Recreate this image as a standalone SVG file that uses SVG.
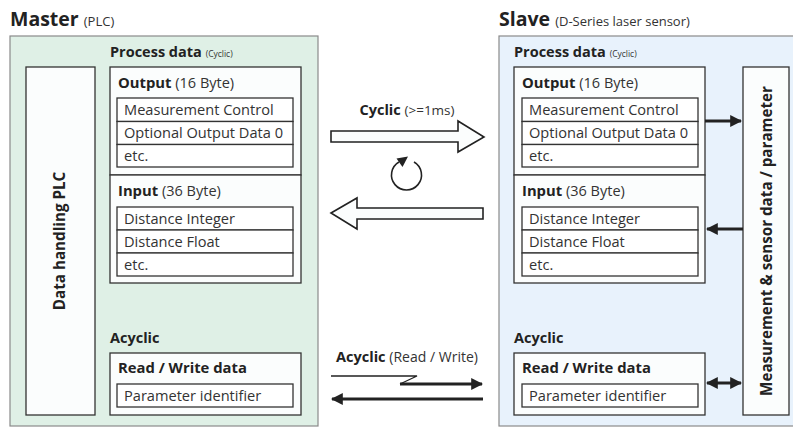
<svg xmlns="http://www.w3.org/2000/svg" width="793" height="430" viewBox="0 0 793 430">
<defs>
<style>
text{font-family:"Open Sans","Noto Sans","DejaVu Sans",sans-serif;fill:#222}
.h1{font-size:19.5px;font-weight:bold}
.h1s{font-size:13px;font-weight:normal;fill:#333}
.h2{font-size:14.5px;font-weight:bold}
.h2s{font-size:8.5px;font-weight:normal;fill:#333}
.h3{font-size:14.8px;font-weight:bold}
.h3s{font-size:14.5px;font-weight:normal;fill:#333}
.row{font-size:14.6px;fill:#333}
.vt{font-size:15.2px;font-weight:bold}
.outer{stroke:#8a8a8a;stroke-width:1.2}
.box{fill:#fbfdfd;stroke:#333;stroke-width:1.3}
.cell{fill:#fff;stroke:#333;stroke-width:1.3}
.conn{stroke:#222;stroke-width:3;fill:none}
</style>
<marker id="ah" viewBox="0 0 10 10" refX="9" refY="5" markerWidth="4" markerHeight="4" orient="auto-start-reverse" markerUnits="strokeWidth">
<path d="M0,0 L10,5 L0,10 z" fill="#222"/>
</marker>
</defs>
<rect x="0" y="0" width="793" height="430" fill="#fff"/>

<g id="master">
<text x="10" y="26" class="h1">Master <tspan class="h1s">(PLC)</tspan></text>
<rect x="10" y="36" width="308" height="390" fill="#dff0e6" class="outer"/>
<text x="110" y="57" class="h2">Process data <tspan class="h2s">(Cyclic)</tspan></text>
</g>

<g id="data-handling-plc">
<rect x="26" y="67" width="69" height="348" class="box"/>
<text transform="translate(65,241) rotate(-90)" text-anchor="middle" class="vt">Data handling PLC</text>
</g>

<g id="master-output">
<rect x="110" y="67" width="191" height="108" class="box"/>
<text x="118" y="88" class="h3">Output <tspan class="h3s">(16 Byte)</tspan></text>
<rect x="117" y="98" width="176" height="23.5" class="cell"/>
<rect x="117" y="121.5" width="176" height="23" class="cell"/>
<rect x="117" y="144.5" width="176" height="22.5" class="cell"/>
<text x="124" y="115" class="row">Measurement Control</text>
<text x="124" y="138" class="row">Optional Output Data 0</text>
<text x="124" y="161" class="row">etc.</text>
</g>

<g id="master-input">
<rect x="110" y="175" width="191" height="108" class="box"/>
<text x="118" y="196" class="h3">Input <tspan class="h3s">(36 Byte)</tspan></text>
<rect x="117" y="207" width="176" height="23" class="cell"/>
<rect x="117" y="230" width="176" height="23" class="cell"/>
<rect x="117" y="253" width="176" height="23" class="cell"/>
<text x="124" y="224" class="row">Distance Integer</text>
<text x="124" y="247" class="row">Distance Float</text>
<text x="124" y="270" class="row">etc.</text>
</g>

<g id="master-acyclic">
<text x="110" y="343" class="h2">Acyclic</text>
<rect x="110" y="353" width="191" height="62" class="box"/>
<text x="118" y="373" class="h3">Read / Write data</text>
<rect x="117" y="384" width="176" height="23" class="cell"/>
<text x="124" y="401" class="row">Parameter identifier</text>
</g>

<g id="slave">
<text x="499" y="26" class="h1">Slave <tspan class="h1s">(D-Series laser sensor)</tspan></text>
<rect x="499" y="36" width="300" height="390" fill="#e8f2fc" class="outer"/>
<text x="514" y="57" class="h2">Process data <tspan class="h2s">(Cyclic)</tspan></text>
</g>

<g id="slave-output">
<rect x="514" y="67" width="191" height="108" class="box"/>
<text x="522" y="88" class="h3">Output <tspan class="h3s">(16 Byte)</tspan></text>
<rect x="522" y="98" width="176" height="23.5" class="cell"/>
<rect x="522" y="121.5" width="176" height="23" class="cell"/>
<rect x="522" y="144.5" width="176" height="22.5" class="cell"/>
<text x="529" y="115" class="row">Measurement Control</text>
<text x="529" y="138" class="row">Optional Output Data 0</text>
<text x="529" y="161" class="row">etc.</text>
</g>

<g id="slave-input">
<rect x="514" y="175" width="191" height="108" class="box"/>
<text x="522" y="196" class="h3">Input <tspan class="h3s">(36 Byte)</tspan></text>
<rect x="522" y="207" width="176" height="23" class="cell"/>
<rect x="522" y="230" width="176" height="23" class="cell"/>
<rect x="522" y="253" width="176" height="23" class="cell"/>
<text x="529" y="224" class="row">Distance Integer</text>
<text x="529" y="247" class="row">Distance Float</text>
<text x="529" y="270" class="row">etc.</text>
</g>

<g id="slave-acyclic">
<text x="514" y="343" class="h2">Acyclic</text>
<rect x="514" y="353" width="191" height="62" class="box"/>
<text x="522" y="373" class="h3">Read / Write data</text>
<rect x="522" y="384" width="176" height="23" class="cell"/>
<text x="529" y="401" class="row">Parameter identifier</text>
</g>

<g id="sensor-data">
<rect x="743" y="67" width="46" height="348" class="box"/>
<text transform="translate(771.5,241) rotate(-90)" text-anchor="middle" class="vt">Measurement &amp; sensor data / parameter</text>
</g>

<g id="connectors">
<text x="407" y="115" text-anchor="middle" class="h2">Cyclic <tspan style="font-weight:normal;font-size:13.5px;fill:#333">(&gt;=1ms)</tspan></text>
<path d="M331,131 L458,131 L458,121 L484,137 L458,152 L458,142 L331,142 Z" fill="#fbfdfd" stroke="#222" stroke-width="1.6"/>
<path d="M331,213 L357,198 L357,208 L483,208 L483,219 L357,219 L357,229 Z" fill="#fbfdfd" stroke="#222" stroke-width="1.6"/>
<path d="M414,162 A15,15 0 1 1 399,162" fill="none" stroke="#222" stroke-width="1.6"/>
<polygon points="408,156.5 396.5,158.5 402.5,167" fill="#222"/>

<text x="407" y="362" text-anchor="middle" class="h2">Acyclic <tspan style="font-weight:normal;font-size:14px;fill:#333">(Read / Write)</tspan></text>
<path d="M331,376 L417,376 L400,384" fill="none" stroke="#222" stroke-width="1.3"/>
<path d="M400,384 L482,384" class="conn" marker-end="url(#ah)"/>
<path d="M483,399 L332,399" class="conn" marker-end="url(#ah)"/>

<path d="M705,121 L741,121" class="conn" marker-end="url(#ah)"/>
<path d="M743,229 L707,229" class="conn" marker-end="url(#ah)"/>
<path d="M707,383 L741,383" class="conn" marker-start="url(#ah)" marker-end="url(#ah)"/>
</g>
</svg>
